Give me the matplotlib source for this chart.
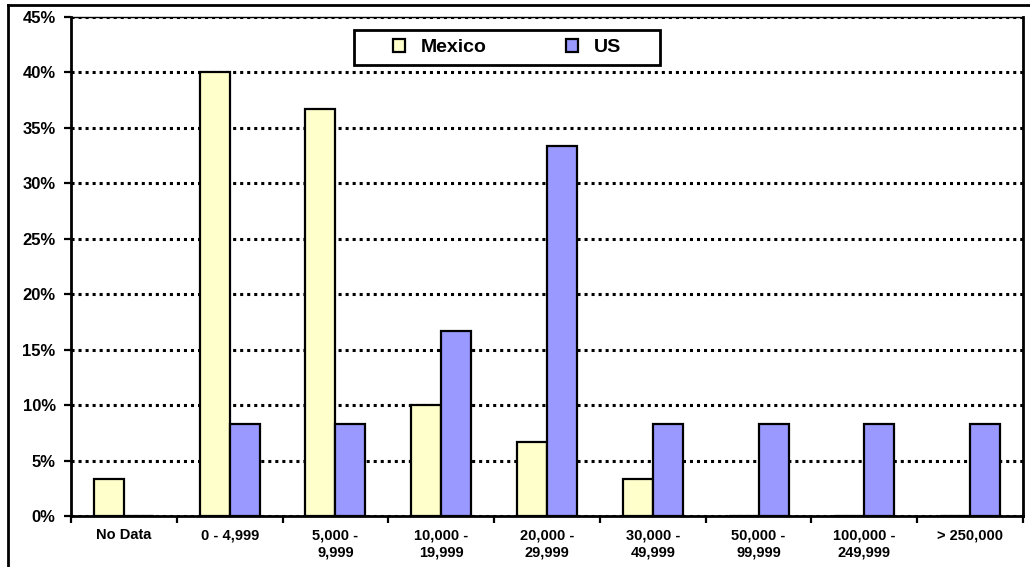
import matplotlib.pyplot as plt
import matplotlib.lines as mlines
import matplotlib.patches as mpatches
import numpy as np

plt.rcParams['font.family'] = ['Liberation Sans', 'DejaVu Sans']

categories = ['No Data', '0 - 4,999', '5,000 -\n9,999', '10,000 -\n19,999',
              '20,000 -\n29,999', '30,000 -\n49,999', '50,000 -\n99,999',
              '100,000 -\n249,999', '> 250,000']
mexico = [3.33, 40.0, 36.67, 10.0, 6.67, 3.33, 0, 0, 0]
us = [0, 8.33, 8.33, 16.67, 33.33, 8.33, 8.33, 8.33, 8.33]
yticks = [0, 5, 10, 15, 20, 25, 30, 35, 40, 45]

fig = plt.figure(figsize=(10.3, 5.67), dpi=100, facecolor='white')
ax = fig.add_axes([0.0689, 0.09, 0.9243, 0.88])

x = np.arange(len(categories))
w = 0.284
ax.bar(x - w / 2, mexico, w, color='#FFFFCC', edgecolor='black', linewidth=1.6,
       label='Mexico', zorder=3)
ax.bar(x + w / 2, us, w, color='#9999FF', edgecolor='black', linewidth=1.6,
       label='US', zorder=3)

ax.set_xlim(-0.5, len(categories) - 0.5)
ax.set_ylim(0, 45)
ax.set_yticks(yticks)
ax.set_yticklabels([f'{v}%' for v in yticks], fontsize=12, fontweight='bold')
ax.yaxis.grid(True, color='black', linewidth=2.2, linestyle=(0, (1, 1.3)), zorder=1)

ax.set_xticks(x)
ax.set_xticklabels(categories, fontsize=10.5, fontweight='bold', linespacing=1.3)
ax.tick_params(axis='x', length=0, pad=9)
ax.set_xticks(np.arange(-0.5, len(categories), 1), minor=True)
ax.tick_params(axis='x', which='minor', length=5, width=1.6, direction='out')
ax.tick_params(axis='y', length=5, width=1.6, direction='out', pad=6)

for side in ['left', 'bottom', 'right']:
    ax.spines[side].set_linewidth(2)
ax.spines['top'].set_linewidth(1.0)

# legend: frameless entries inside a wide box
leg = fig.legend(*ax.get_legend_handles_labels(), loc='center left',
                 bbox_to_anchor=(0.3816, 0.9162), bbox_transform=fig.transFigure,
                 ncol=2, frameon=False, prop={'weight': 'bold', 'size': 14},
                 handlelength=0.62, handleheight=0.62, handletextpad=0.8,
                 columnspacing=4.1, borderpad=0, borderaxespad=0)
for h in leg.legend_handles:
    h.set_linewidth(1.6)
fig.add_artist(mpatches.Rectangle((0.3437, 0.8854), 0.2971, 0.0617,
                                  transform=fig.transFigure, facecolor='white',
                                  edgecolor='black', linewidth=2, zorder=2))
leg.set_zorder(3)

# outer chart frame
fig.add_artist(mlines.Line2D([0.0078, 1.0], [0.991, 0.991], color='black',
                             linewidth=2, transform=fig.transFigure))
fig.add_artist(mlines.Line2D([0.0078, 0.0078], [0.0, 0.991], color='black',
                             linewidth=2, transform=fig.transFigure))

fig.savefig('out.png', dpi=100, facecolor='white')
